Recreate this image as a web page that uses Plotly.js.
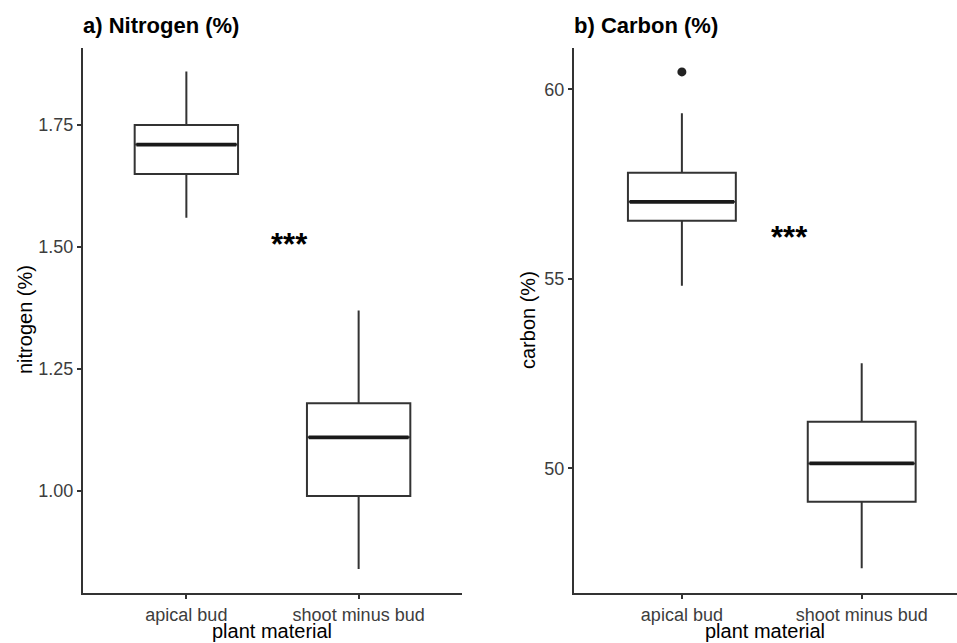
<!DOCTYPE html>
<html>
<head>
<meta charset="utf-8">
<script src="https://cdn.plot.ly/plotly-3.0.1.min.js"></script>
<style>html,body{margin:0;padding:0;background:#fff;}#chart{width:957px;height:643px;}</style>
</head>
<body>
<div id="chart"></div>
<script>
// ---- data ----
const categories = ["apical bud", "shoot minus bud"];
const catPos = [1, 2];

const nitrogenQ1 = [1.65, 0.99];
const nitrogenMedian = [1.71, 1.11];
const nitrogenQ3 = [1.75, 1.18];
const nitrogenLower = [1.56, 0.84];
const nitrogenUpper = [1.86, 1.37];

const carbonQ1 = [56.53, 49.12];
const carbonMedian = [57.03, 50.13];
const carbonQ3 = [57.80, 51.23];
const carbonLower = [54.82, 47.36];
const carbonUpper = [59.37, 52.77];

const carbonOutlierX = [1];
const carbonOutlierY = [60.46];

const nitrogenTicks = [1.00, 1.25, 1.50, 1.75];
const carbonTicks = [50, 55, 60];

const sigLabel = "***";
const nitrogenSigPos = [1.6, 1.505];
const carbonSigPos = [1.6, 56.1];

// ---- styling ----
const W = 957, H = 643;
const FONT = "Liberation Sans, Arial, sans-serif";
const LINE = "#333333";
const BOXW = 0.6;

function boxTrace(q1, med, q3, lo, hi, xa, ya) {
  return {
    type: "box", x: catPos, q1: q1, median: med, q3: q3,
    lowerfence: lo, upperfence: hi, width: BOXW,
    boxpoints: false, fillcolor: "#ffffff",
    line: {color: LINE, width: 2}, whiskerwidth: 0,
    xaxis: xa, yaxis: ya, hoverinfo: "skip", showlegend: false
  };
}
function medianTraces(med, xa, ya) {
  return med.map((m, i) => ({
    type: "scatter", mode: "lines",
    x: [catPos[i] - BOXW / 2 + 0.01, catPos[i] + BOXW / 2 - 0.01], y: [m, m],
    line: {color: "#1a1a1a", width: 3.8},
    xaxis: xa, yaxis: ya, hoverinfo: "skip", showlegend: false
  }));
}

const data = [
  boxTrace(nitrogenQ1, nitrogenMedian, nitrogenQ3, nitrogenLower, nitrogenUpper, "x", "y"),
  ...medianTraces(nitrogenMedian, "x", "y"),
  boxTrace(carbonQ1, carbonMedian, carbonQ3, carbonLower, carbonUpper, "x2", "y2"),
  ...medianTraces(carbonMedian, "x2", "y2"),
  {type: "scatter", mode: "markers", x: carbonOutlierX, y: carbonOutlierY,
   marker: {color: "#222222", size: 9}, xaxis: "x2", yaxis: "y2",
   hoverinfo: "skip", showlegend: false}
];

const yDom = [1 - 593 / H, 1 - 48 / H];
function xAxis(dom, range) {
  return {
    domain: dom, range: range, tickvals: catPos, ticktext: categories,
    showline: true, linecolor: LINE, linewidth: 2, ticks: "outside",
    ticklen: 4, tickwidth: 1.8, tickcolor: LINE, showgrid: false, zeroline: false,
    tickfont: {family: FONT, size: 18, color: "#3d3d3d"}, fixedrange: true
  };
}
function yAxis(anchor, range, ticks, fmt) {
  return {
    domain: yDom, anchor: anchor, range: range, tickvals: ticks, tickformat: fmt,
    showline: true, linecolor: LINE, linewidth: 2, ticks: "outside",
    ticklen: 4, tickwidth: 1.8, tickcolor: LINE, showgrid: false, zeroline: false,
    tickfont: {family: FONT, size: 18, color: "#3d3d3d"}, fixedrange: true
  };
}

const px = v => v / W, py = v => 1 - v / H;
const layout = {
  width: W, height: H,
  margin: {l: 0, r: 0, t: 0, b: 0},
  paper_bgcolor: "#ffffff", plot_bgcolor: "#ffffff",
  showlegend: false,
  xaxis: xAxis([83 / W, 462 / W], [0.4, 2.6]),
  yaxis: yAxis("x", [0.791, 1.908], nitrogenTicks, ".2f"),
  xaxis2: Object.assign(xAxis([574 / W, 1], [0.4, 2.53]), {anchor: "y2"}),
  yaxis2: yAxis("x2", [46.71, 61.09], carbonTicks, "d"),
  annotations: [
    {xref: "paper", yref: "paper", x: px(81), y: py(25), xanchor: "left", yanchor: "middle",
     text: "<b>a) Nitrogen (%)</b>", showarrow: false, font: {family: FONT, size: 22, color: "#000"}},
    {xref: "paper", yref: "paper", x: px(572), y: py(25), xanchor: "left", yanchor: "middle",
     text: "<b>b) Carbon (%)</b>", showarrow: false, font: {family: FONT, size: 22, color: "#000"}},
    {xref: "paper", yref: "paper", x: px(25), y: py(320), xanchor: "center", yanchor: "middle",
     textangle: -90, text: "nitrogen (%)", showarrow: false, font: {family: FONT, size: 20, color: "#000"}},
    {xref: "paper", yref: "paper", x: px(528), y: py(320), xanchor: "center", yanchor: "middle",
     textangle: -90, text: "carbon (%)", showarrow: false, font: {family: FONT, size: 20, color: "#000"}},
    {xref: "paper", yref: "paper", x: px(272), y: py(631), xanchor: "center", yanchor: "middle",
     text: "plant material", showarrow: false, font: {family: FONT, size: 20, color: "#000"}},
    {xref: "paper", yref: "paper", x: px(765), y: py(631), xanchor: "center", yanchor: "middle",
     text: "plant material", showarrow: false, font: {family: FONT, size: 20, color: "#000"}},
    {xref: "x", yref: "y", x: nitrogenSigPos[0], y: nitrogenSigPos[1], xanchor: "center", yanchor: "middle",
     text: "<b>" + sigLabel + "</b>", showarrow: false, font: {family: FONT, size: 31, color: "#000"}},
    {xref: "x2", yref: "y2", x: carbonSigPos[0], y: carbonSigPos[1], xanchor: "center", yanchor: "middle",
     text: "<b>" + sigLabel + "</b>", showarrow: false, font: {family: FONT, size: 31, color: "#000"}}
  ]
};

Plotly.newPlot("chart", data, layout, {staticPlot: true, displayModeBar: false});
</script>
</body>
</html>
